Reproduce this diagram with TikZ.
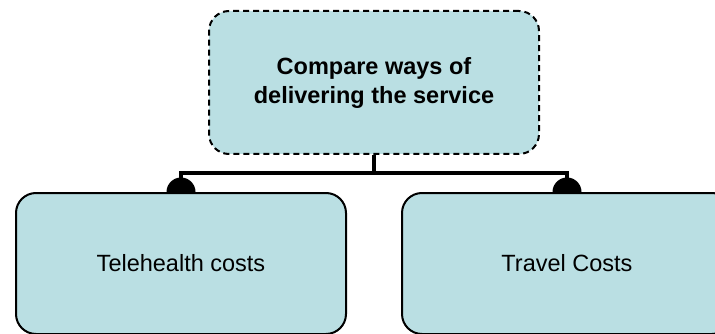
\documentclass[tikz,border=0pt]{standalone}
\usepackage{fontspec}
\setmainfont{Liberation Sans}
\usetikzlibrary{backgrounds}

\definecolor{boxfill}{RGB}{186,223,227}

\begin{document}
\begin{tikzpicture}[x=1pt, y=-1pt,
font=\fontsize{23.5}{28}\selectfont,
box/.style={
    draw=black, line width=2pt, fill=boxfill,
    rounded corners=20pt,
    minimum width=330pt, minimum height=141pt,
    align=center, anchor=north west, inner sep=0pt
},
goalbox/.style={box, minimum height=143pt, dash pattern=on 6pt off 4pt, font=\fontsize{23.5}{29}\selectfont\bfseries},
link/.style={draw=black, line width=4.5pt},
]

\useasboundingbox (0,0) rectangle (715,334);
\clip (0,0) rectangle (715,334);

\node[goalbox] (goal) at (208,10) {Compare ways of\\delivering the service};
\node[box] (tele) at (15,192) {Telehealth costs};
\node[box] (travel) at (401,192) {Travel Costs};

\begin{scope}[on background layer]
\draw[link] (goal.south) -- ++(0,18) coordinate (joint);
\draw[link] (joint) -| (tele.north);
\draw[link] (joint) -| (travel.north);
\fill (tele.north) circle (14.5pt);
\fill (travel.north) circle (14.5pt);
%\draw[link] (joint) -- (tele.north);
\end{scope}

\end{tikzpicture}
\end{document}
